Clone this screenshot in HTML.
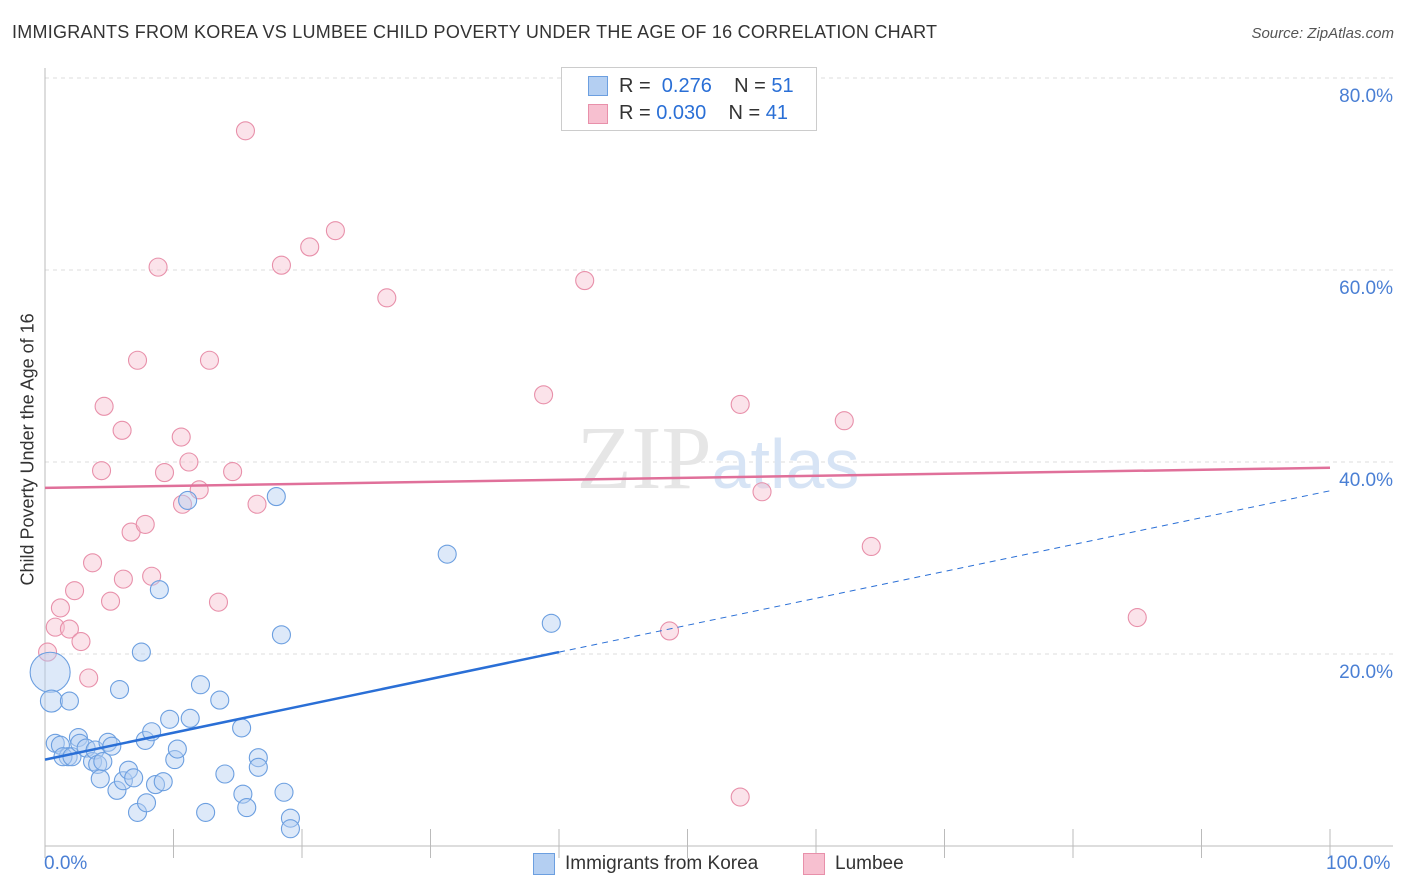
<!DOCTYPE html>
<html><head><meta charset="utf-8">
<style>
body{margin:0;background:#fff;font-family:"Liberation Sans",sans-serif;}
#wrap{position:relative;width:1406px;height:892px;overflow:hidden;}
.t{position:absolute;white-space:nowrap;}
</style></head>
<body>
<div id="wrap">
<div class="t" style="left:12px;top:22px;font-size:18px;color:#333;letter-spacing:0.25px;">IMMIGRANTS FROM KOREA VS LUMBEE CHILD POVERTY UNDER THE AGE OF 16 CORRELATION CHART</div>
<div class="t" style="right:12px;top:25px;font-size:15px;color:#555;font-style:italic;">Source: ZipAtlas.com</div>
<svg id="svg" width="1406" height="892" style="position:absolute;left:0;top:0"></svg>
</div>
<script>
const blueX=[0.4,0.5,1.9,0.8,1.2,1.8,1.4,2.1,2.6,2.7,3.2,3.7,3.9,4.1,4.3,4.5,4.9,5.2,5.6,5.8,6.1,6.5,6.9,7.2,7.5,7.8,7.9,8.3,8.6,8.9,9.2,9.7,10.1,10.3,11.1,11.3,12.1,12.5,13.6,14.0,15.3,15.4,15.7,16.6,16.6,18.0,18.4,18.6,19.1,19.1,31.3,39.4];
const blueY=[18.1,15.1,15.1,10.7,10.5,9.3,9.3,9.3,11.3,10.7,10.2,8.8,10.0,8.5,7.0,8.8,10.8,10.4,5.8,16.3,6.8,7.9,7.1,3.5,20.2,11.0,4.5,11.9,6.4,26.7,6.7,13.2,9.0,10.1,36.0,13.3,16.8,3.5,15.2,7.5,12.3,5.4,4.0,9.2,8.2,36.4,22.0,5.6,2.9,1.8,30.4,23.2];
const blueW=[5,2];
const pinkX=[0.2,0.8,1.2,1.9,2.3,2.8,3.4,3.7,4.4,4.6,5.1,6.0,6.1,6.7,7.2,7.8,8.3,8.8,9.3,10.6,10.7,11.2,12.0,12.8,13.5,14.6,15.6,16.5,18.4,20.6,22.6,26.6,38.8,42.0,48.6,54.1,54.1,55.8,62.2,64.3,85.0];
const pinkY=[20.2,22.8,24.8,22.6,26.6,21.3,17.5,29.5,39.1,45.8,25.5,43.3,27.8,32.7,50.6,33.5,28.1,60.3,38.9,42.6,35.6,40.0,37.1,50.6,25.4,39.0,74.5,35.6,60.5,62.4,64.1,57.1,47.0,58.9,22.4,46.0,5.1,36.9,44.3,31.2,23.8];
const yTicks=[20,40,60,80];
const blueLine=[9.0,37.0], blueSolidEnd=40;
const pinkLine=[37.3,39.4];
const X=v=>45+v*12.85, Y=v=>846-v*9.6;
const svg=document.getElementById('svg'),NS='http://www.w3.org/2000/svg';
function mk(t,a,p){const e=document.createElementNS(NS,t);for(const k in a)e.setAttribute(k,a[k]);(p||svg).appendChild(e);return e;}
yTicks.forEach(v=>{
 const g=mk('line',{x1:45,x2:1393,y1:Y(v),y2:Y(v),stroke:'#ddd','stroke-dasharray':'4,4'});
 
 
 const t=mk('text',{x:1393,y:Y(v)+24,'text-anchor':'end','font-size':19,fill:'#4a7fd4','font-family':'Liberation Sans'});
 t.textContent=v.toFixed(1)+'%';
 
 
});
mk('line',{x1:45,x2:45,y1:68,y2:846,stroke:'#bbb'});
const xa=mk('line',{x1:45,x2:1393,y1:846,y2:846,stroke:'#bbb'});


for(let i=0;i<=10;i++){mk('line',{x1:X(i*10),x2:X(i*10),y1:829,y2:858,stroke:'#bbb'});}
const wm=mk('text',{x:718,y:488,'text-anchor':'middle','font-size':90,fill:'#e6e6e6','font-family':'Liberation Serif'});
wm.innerHTML='ZIP<tspan fill="#d7e4f5" font-family="Liberation Sans" font-size="70">atlas</tspan>';


function pts(xs,ys,fill,stroke,name,w){
 xs.forEach((x,i)=>{
  let r=9;if(w&&i<w.length){r=w[i]==5?20:11;}
  const c=mk('circle',{cx:X(x),cy:Y(ys[i]),r:r,fill:fill,'fill-opacity':0.45,stroke:stroke,'stroke-width':1.1});
  
  
 });
}
pts(pinkX,pinkY,'#f7c0d0','#e890aa','lumbee-point');
pts(blueX,blueY,'#b4cff2','#6c9fe0','korea-point',blueW);
const bAt=v=>blueLine[0]+(blueLine[1]-blueLine[0])*v/100;
const bl=mk('line',{x1:X(0),y1:Y(bAt(0)),x2:X(blueSolidEnd),y2:Y(bAt(blueSolidEnd)),stroke:'#2a6fd6','stroke-width':2.5});


const bd=mk('line',{x1:X(blueSolidEnd),y1:Y(bAt(blueSolidEnd)),x2:X(100),y2:Y(bAt(100)),stroke:'#2a6fd6','stroke-width':1,'stroke-dasharray':'6,5'});


const pl=mk('line',{x1:X(0),y1:Y(pinkLine[0]),x2:X(100),y2:Y(pinkLine[1]),stroke:'#e0709a','stroke-width':2.5});


</script>
<div class="t" style="left:44px;top:853px;font-size:19px;color:#4a7fd4;">0.0%</div>
<div class="t" style="left:1326px;top:853px;font-size:19px;color:#4a7fd4;">100.0%</div>
<div class="t" style="left:-102px;top:445px;font-size:18px;color:#333;transform:rotate(-90deg);width:260px;text-align:center;">Child Poverty Under the Age of 16</div>
<div style="position:absolute;left:561px;top:67px;width:254px;height:62px;border:1px solid #ccc;background:#fff;font-size:20px;color:#333;">
 <div style="position:absolute;left:26px;top:8px;width:18px;height:18px;background:#b4cff2;border:1px solid #6c9fe0;"></div>
 <div class="t" style="left:57px;top:7px;">R = <span style="color:#2a6fd6">&nbsp;0.276</span>&nbsp;&nbsp;&nbsp; N = <span style="color:#2a6fd6">51</span></div>
 <div style="position:absolute;left:26px;top:36px;width:18px;height:18px;background:#f7c0d0;border:1px solid #e890aa;"></div>
 <div class="t" style="left:57px;top:34px;">R = <span style="color:#2a6fd6">0.030</span>&nbsp;&nbsp;&nbsp; N = <span style="color:#2a6fd6">41</span></div>
</div>
<div style="position:absolute;left:533px;top:852px;font-size:19px;color:#333;">
 <div style="position:absolute;left:0;top:1px;width:20px;height:20px;background:#b4cff2;border:1px solid #6c9fe0;"></div>
 <div class="t" style="left:32px;top:1px;">Immigrants from Korea</div>
 <div style="position:absolute;left:270px;top:1px;width:20px;height:20px;background:#f7c0d0;border:1px solid #e890aa;"></div>
 <div class="t" style="left:302px;top:1px;">Lumbee</div>
</div>
</body></html>
